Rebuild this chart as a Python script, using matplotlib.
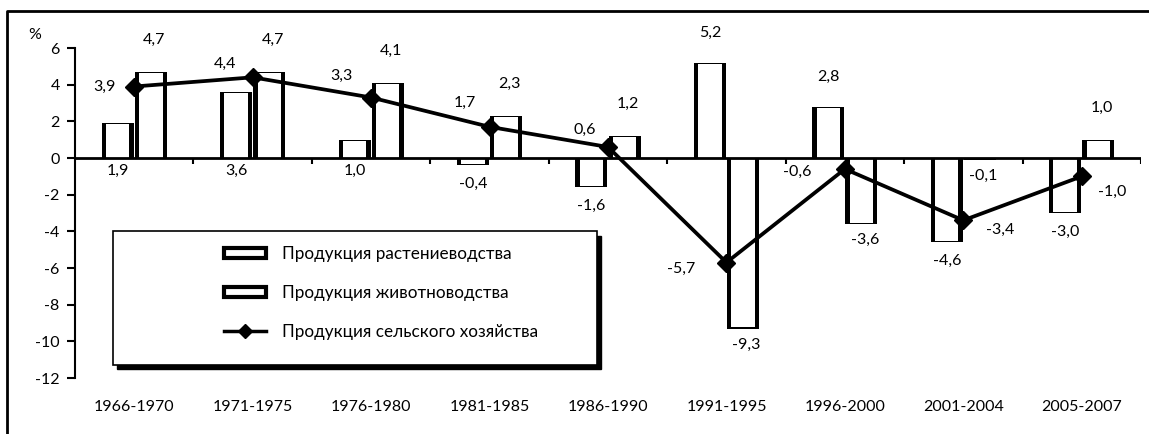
import matplotlib
matplotlib.use("Agg")
import matplotlib.pyplot as plt
from matplotlib.patches import Rectangle
from matplotlib.lines import Line2D
import numpy as np

plt.rcParams['font.family'] = ['Lato', 'DejaVu Sans']

periods = ["1966-1970", "1971-1975", "1976-1980", "1981-1985", "1986-1990",
           "1991-1995", "1996-2000", "2001-2004", "2005-2007"]
crop = [1.9, 3.6, 1.0, -0.4, -1.6, 5.2, 2.8, -4.6, -3.0]
livestock = [4.7, 4.7, 4.1, 2.3, 1.2, -9.3, -3.6, -0.1, 1.0]
agri = [3.9, 4.4, 3.3, 1.7, 0.6, -5.7, -0.6, -3.4, -1.0]
y_ticks = [6, 4, 2, 0, -2, -4, -6, -8, -10, -12]

series_names = ["Продукция растениеводства", "Продукция животноводства",
                "Продукция сельского хозяйства"]

# где подписи у столбцов растениеводства: у основания или у конца
crop_label_mode = ["base", "base", "base", "end", "end", "end", "end", "end", "end"]
# подписи линии: смещение в пикселях
agri_label_off = [(-30, 0), (-28, 13), (-30, 22), (-25, 24), (-23, 17),
                  (-45, -6), (-48, -3), (37, -10), (30, -16)]

def fmt(v):
    return f"{v:.1f}".replace(".", ",")

fig = plt.figure(figsize=(11.49, 4.34), dpi=100)
ax = fig.add_axes([75/1149, 56/434, 1066/1149, 330/434])

x = np.arange(len(periods))
w = 0.27
side = 0.036
off = 0.14

def draw_bar(xc, v):
    ax.bar(xc, v, w, color="black", zorder=2)
    inner = v - np.sign(v) * 0.07
    ax.bar(xc, inner, w - 2 * side, color="white", zorder=3)

for i in range(len(periods)):
    draw_bar(x[i] - off, crop[i])
    draw_bar(x[i] + off, livestock[i])

ax.plot(x, agri, color="black", lw=2.7, marker="D", markersize=9, zorder=5)

fs = 11.5
for i in range(len(periods)):
    # растениеводство
    v = crop[i]
    if crop_label_mode[i] == "base":
        ax.annotate(fmt(v), (x[i] - off, 0), xytext=(0, -13), textcoords="offset pixels",
                    ha="center", va="center", fontsize=fs)
    else:
        dy = 30 if v > 0 else -19
        ax.annotate(fmt(v), (x[i] - off, v), xytext=(0, dy), textcoords="offset pixels",
                    ha="center", va="center", fontsize=fs)
    # животноводство
    v = livestock[i]
    dy = 32 if v > 0 else -16
    ax.annotate(fmt(v), (x[i] + off + 0.03, v), xytext=(0, dy), textcoords="offset pixels",
                ha="center", va="center", fontsize=fs)
    # сельское хозяйство
    ax.annotate(fmt(agri[i]), (x[i], agri[i]), xytext=agri_label_off[i],
                textcoords="offset pixels", ha="center", va="center", fontsize=fs)

ax.set_xlim(-0.5, len(periods) - 0.5)
ax.set_ylim(-12, 6)
ax.set_yticks(y_ticks)
ax.set_yticklabels([str(t) for t in y_ticks], fontsize=fs)
ax.set_xticks([])
for s in ["top", "right", "bottom"]:
    ax.spines[s].set_visible(False)
ax.spines["left"].set_linewidth(1.5)
ax.tick_params(axis="y", length=6, width=1.5, pad=5)

ax.axhline(0, color="black", lw=2, zorder=4)
ax.vlines(x[:-1] + 0.5, -0.3, 0, color="black", lw=1.5, zorder=4)
ax.vlines([len(periods) - 0.5], -0.3, 0, color="black", lw=1.5, zorder=4)

for i, p in enumerate(periods):
    ax.text(x[i], -13.6, p, ha="center", va="center", fontsize=fs, clip_on=False)

# рамка легенды с тенью
ax.add_patch(Rectangle((0.0356 + 0.004, 0.040 - 0.014), 0.454, 0.405, transform=ax.transAxes,
                       facecolor="black", edgecolor="black", zorder=6))
ax.add_patch(Rectangle((0.0356, 0.040), 0.454, 0.405, transform=ax.transAxes,
                       facecolor="white", edgecolor="black", lw=1.2, zorder=7))

handles = [Rectangle((0, 0), 1, 1, facecolor="white", edgecolor="black", lw=3),
           Rectangle((0, 0), 1, 1, facecolor="white", edgecolor="black", lw=3),
           Line2D([0], [0], color="black", lw=2.5, marker="D", markersize=7)]
leg = ax.legend(handles, series_names, loc="center left", bbox_to_anchor=(0.125, 0.258),
                frameon=False, fontsize=12.3, handlelength=2.5, handleheight=0.55,
                labelspacing=1.35, handletextpad=0.9)
leg.set_zorder(8)

fig.text(35/1149, 1 - 35/434, "%", fontsize=fs, ha="center", va="center")

fig.add_artist(Line2D([7/1149, 7/1149, 1.0], [0, 1 - 11/434, 1 - 11/434],
                      color="black", lw=2, transform=fig.transFigure))

fig.savefig("out.png", dpi=100)
